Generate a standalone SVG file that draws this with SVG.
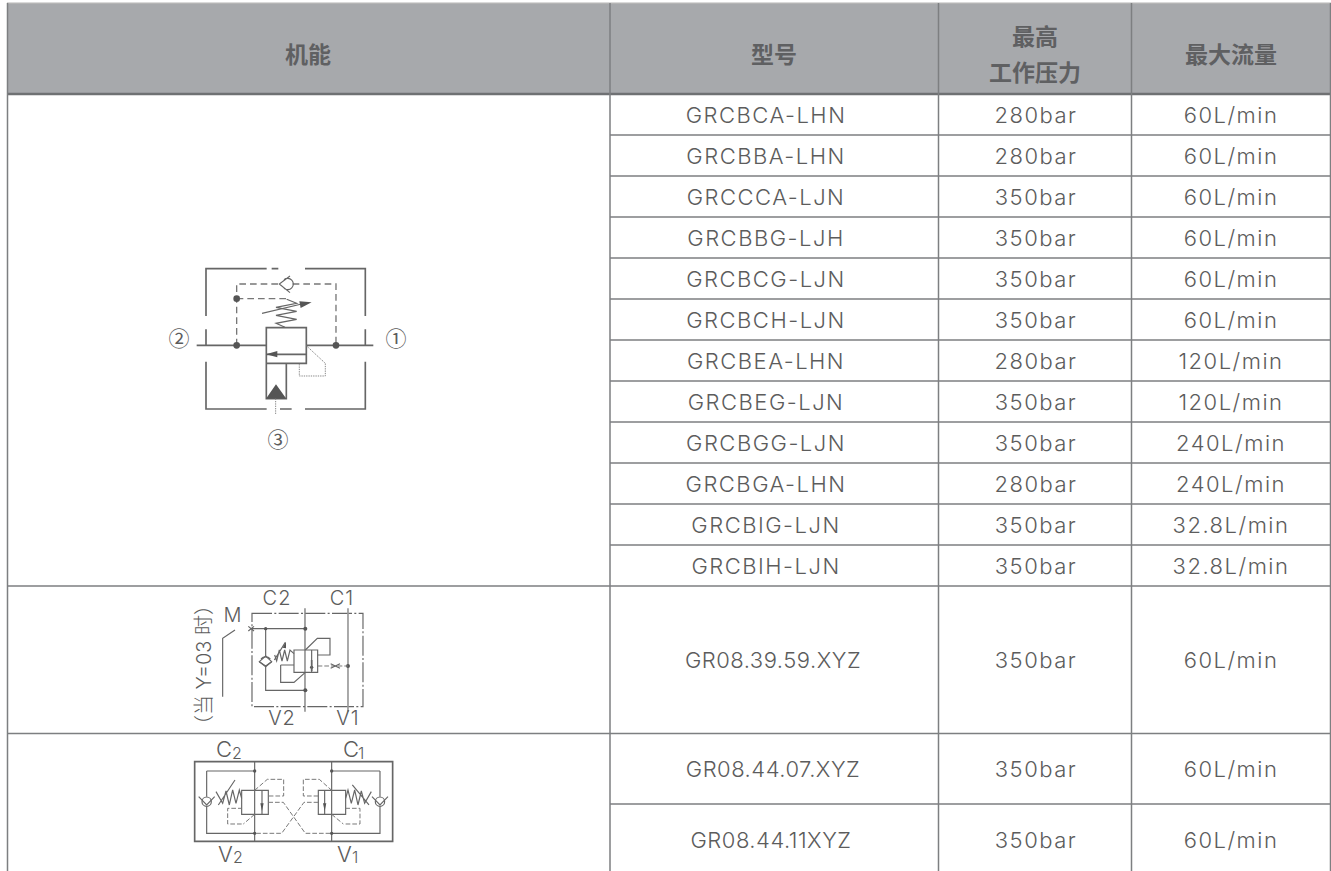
<svg xmlns="http://www.w3.org/2000/svg" width="1331" height="871" viewBox="0 0 1331 871">
<style>
text{font-family:"Inter","Noto Sans CJK SC",sans-serif;fill:#5c5c5c}
.c{font-size:22px;text-anchor:middle;font-weight:300;letter-spacing:1.5px}
.m{font-size:22px;text-anchor:middle;font-weight:300;letter-spacing:.5px}
.h{font-size:23px;text-anchor:middle;font-family:"Noto Sans CJK SC",sans-serif;font-weight:700;fill:#5f6062}
.g{stroke:#7d7f81;stroke-width:1.5;fill:none}
.s{fill:none;stroke:#666;stroke-width:5}
.t{fill:none;stroke:#666;stroke-width:3.5}
.d{fill:none;stroke:#777;stroke-width:4;stroke-dasharray:20 12}
.e{fill:none;stroke:#777;stroke-width:3;stroke-dasharray:14 6}
.o{fill:none;stroke:#888;stroke-width:3;stroke-dasharray:4 3}
.f{fill:#555}
.l{font-size:20px;text-anchor:middle;font-weight:300;letter-spacing:1px}
.n{font-size:21px;text-anchor:middle;font-family:"Noto Sans CJK SC",sans-serif;font-weight:400}
.b{font-size:22px;font-weight:300}
.u{font-size:16px;font-weight:300}
</style>
<rect width="1331" height="871" fill="#fff"/>
<g id="table">
<rect x="7.5" y="3.500" width="1323" height="91" fill="#a7a9ac"/>
<path d="M7 3.300H1331" stroke="#b5b5b5" stroke-width="1.5"/>
<path d="M7 94H1331" stroke="#6f7173" stroke-width="2.5"/>
<path class="g" d="M7.500 3V871M610 3V871M938.500 3V871M1131.500 3V871M1330.500 3V871"/>
<path class="g" d="M610 135H1331M610 176H1331M610 217H1331M610 258H1331M610 299H1331M610 340H1331M610 381H1331M610 422H1331M610 463H1331M610 504H1331M610 545H1331M7 586H1331M7 733.500H1331M610 804H1331"/>
</g>
<g id="header">
<text class="h" x="308" y="63">机能</text>
<text class="h" x="774" y="63">型号</text>
<text class="h" x="1035" y="45">最高</text>
<text class="h" x="1035" y="81">工作压力</text>
<text class="h" x="1231" y="63">最大流量</text>
</g>
<g id="rows">
<text class="c" x="766" y="123">GRCBCA-LHN</text><text class="c" x="1036" y="123">280bar</text><text class="c" x="1231" y="123">60L/min</text>
<text class="c" x="766" y="164">GRCBBA-LHN</text><text class="c" x="1036" y="164">280bar</text><text class="c" x="1231" y="164">60L/min</text>
<text class="c" x="766" y="205">GRCCCA-LJN</text><text class="c" x="1036" y="205">350bar</text><text class="c" x="1231" y="205">60L/min</text>
<text class="c" x="766" y="246">GRCBBG-LJH</text><text class="c" x="1036" y="246">350bar</text><text class="c" x="1231" y="246">60L/min</text>
<text class="c" x="766" y="287">GRCBCG-LJN</text><text class="c" x="1036" y="287">350bar</text><text class="c" x="1231" y="287">60L/min</text>
<text class="c" x="766" y="328">GRCBCH-LJN</text><text class="c" x="1036" y="328">350bar</text><text class="c" x="1231" y="328">60L/min</text>
<text class="c" x="766" y="369">GRCBEA-LHN</text><text class="c" x="1036" y="369">280bar</text><text class="c" x="1231" y="369">120L/min</text>
<text class="c" x="766" y="410">GRCBEG-LJN</text><text class="c" x="1036" y="410">350bar</text><text class="c" x="1231" y="410">120L/min</text>
<text class="c" x="766" y="451">GRCBGG-LJN</text><text class="c" x="1036" y="451">350bar</text><text class="c" x="1231" y="451">240L/min</text>
<text class="c" x="766" y="492">GRCBGA-LHN</text><text class="c" x="1036" y="492">280bar</text><text class="c" x="1231" y="492">240L/min</text>
<text class="c" x="766" y="533">GRCBIG-LJN</text><text class="c" x="1036" y="533">350bar</text><text class="c" x="1231" y="533">32.8L/min</text>
<text class="c" x="766" y="574">GRCBIH-LJN</text><text class="c" x="1036" y="574">350bar</text><text class="c" x="1231" y="574">32.8L/min</text>
<text class="m" x="773" y="668">GR08.39.59.XYZ</text><text class="c" x="1036" y="668">350bar</text><text class="c" x="1231" y="668">60L/min</text>
<text class="m" x="773" y="777">GR08.44.07.XYZ</text><text class="c" x="1036" y="777">350bar</text><text class="c" x="1231" y="777">60L/min</text>
<text class="m" x="771" y="848">GR08.44.11XYZ</text><text class="c" x="1036" y="848">350bar</text><text class="c" x="1231" y="848">60L/min</text>
</g>
<g id="symbol1">
<g transform="translate(170 250) scale(.3333)">
<path class="s" d="M290 56H108V198M108 238V286M108 335V477H290M330 477H365M405 477H586V335M586 286V238M586 198V56H405M305 56H325"/>
<path class="s" d="M80 286H288M410 286H610"/>
<path class="d" d="M200 286V102H330M368 102H498V286M200 146H360"/>
<circle class="f" cx="200" cy="286" r="10"/><circle class="f" cx="498" cy="286" r="10"/><circle class="f" cx="200" cy="146" r="10"/>
<path class="t" d="M360 78L328 102L360 128M342 89A17 17 0 1 1 342 115"/>
<path class="t" d="M345 232L318 220L380 208L318 196L380 184L318 172L380 160L350 148"/>
<path class="t" d="M276 190L395 162"/><path class="f" d="M388 154L425 157L392 174Z"/>
<path class="s" d="M289 233H409V340H289ZM289 313H409M289 340V446H349V340"/>
<path class="f" d="M288 313L322 303V322ZM288 446L318 403L349 446Z"/>
<path class="o" d="M410 288L466 340V378H388V340M317 446V492"/>
</g>
<text class="n" x="179" y="346">②</text>
<text class="n" x="396" y="346">①</text>
<text class="n" x="278" y="447">③</text>
</g>
<g id="symbol2">
<g transform="translate(180 585) scale(.3333)">
<path class="t" style="stroke-dasharray:60 7 6 7" d="M216 85H549V365H216Z"/>
<path class="t" d="M375 70V380"/>
<path d="M504 70V380" fill="none" stroke="#999" stroke-width="5"/>
<path class="t" d="M216 131H375M257 131V215M257 243V316H375"/>
<path class="t" d="M128 335V160L165 135"/>
<path class="t" d="M205 124L222 138M222 124L205 138"/>
<circle class="f" cx="257" cy="131" r="5"/><circle class="f" cx="376" cy="131" r="6"/><circle class="f" cx="376" cy="316" r="6"/><circle class="f" cx="504" cy="243" r="6"/>
<path class="t" d="M238 230L257 243L275 230M243 222A19 19 0 0 1 271 222"/><path class="t" d="M257 213L275 230L257 245L238 230Z"/>
<path class="t" d="M342 195H413V262H342ZM395 195V262"/>
<path class="t" d="M342 206L330 195L322 228L314 195L306 228L298 195L290 228L284 210M283 225L316 172"/>
<path class="f" d="M318 170L308 188L318 190Z"/>
<path class="t" d="M376 195L412 160H450V210H413M302 240V292H342L376 262M302 240H342"/>
<path class="e" d="M413 243H504"/>
<path class="t" d="M452 236L480 250M452 250L480 236"/>
<circle class="f" cx="395" cy="247" r="5"/><path class="s" d="M395 225V258"/>
</g>
<text class="l" x="277" y="605">C2</text><text class="l" x="342" y="605">C1</text>
<text class="l" x="282" y="725">V2</text><text class="l" x="348" y="725">V1</text>
<text class="l" x="233" y="622">M</text>
<text x="211" y="665" font-size="20" text-anchor="middle" font-weight="300" transform="rotate(-90 211 665)">（当 Y=03 时）</text>
</g>
<g id="symbol3">
<g transform="translate(180 735) scale(.3333)">
<path class="s" d="M44 80H638V319H44Z"/>
<path class="t" d="M224 80V319M455 80V319M80 108H224M455 108H600M80 108V185M80 215V295H224M600 108V185M600 215V295H455"/>
<circle class="f" cx="224" cy="108" r="5"/><circle class="f" cx="455" cy="108" r="5"/><circle class="f" cx="224" cy="295" r="5"/><circle class="f" cx="455" cy="295" r="5"/>
<path class="t" d="M56 185L80 210L104 185"/><circle class="t" cx="80" cy="200" r="14"/>
<path class="t" d="M624 185L600 210L576 185"/><circle class="t" cx="600" cy="200" r="14"/>
<path class="t" d="M185 166H265V238H185ZM246 166V238M415 166H497V238H415ZM434 166V238"/>
<path class="t" d="M185 190L178 165L168 205L158 165L148 210L138 168L128 205L108 170M115 210L165 135"/>
<path class="t" d="M497 190L504 165L514 205L524 165L534 210L544 168L554 205L574 170M567 210L517 150"/>
<path class="f" d="M246 228L241 205H251ZM434 228L429 205H439Z"/>
<path class="e" d="M224 166L262 133H311V183H265M415 183H370V133H418L455 166M185 267H143V220H185M224 238L190 267M497 267H540V220H497M455 238L490 267"/>
<path class="e" d="M265 202H310L376 295H455M415 202H372L305 295H228"/>
</g>
<text class="b" x="216" y="757">C</text><text class="u" x="232" y="759">2</text>
<text class="b" x="343" y="757">C</text><text class="u" x="358" y="759">1</text>
<text class="b" x="218" y="862">V</text><text class="u" x="233" y="863">2</text>
<text class="b" x="337" y="862">V</text><text class="u" x="352" y="863">1</text>
</g>
</svg>
